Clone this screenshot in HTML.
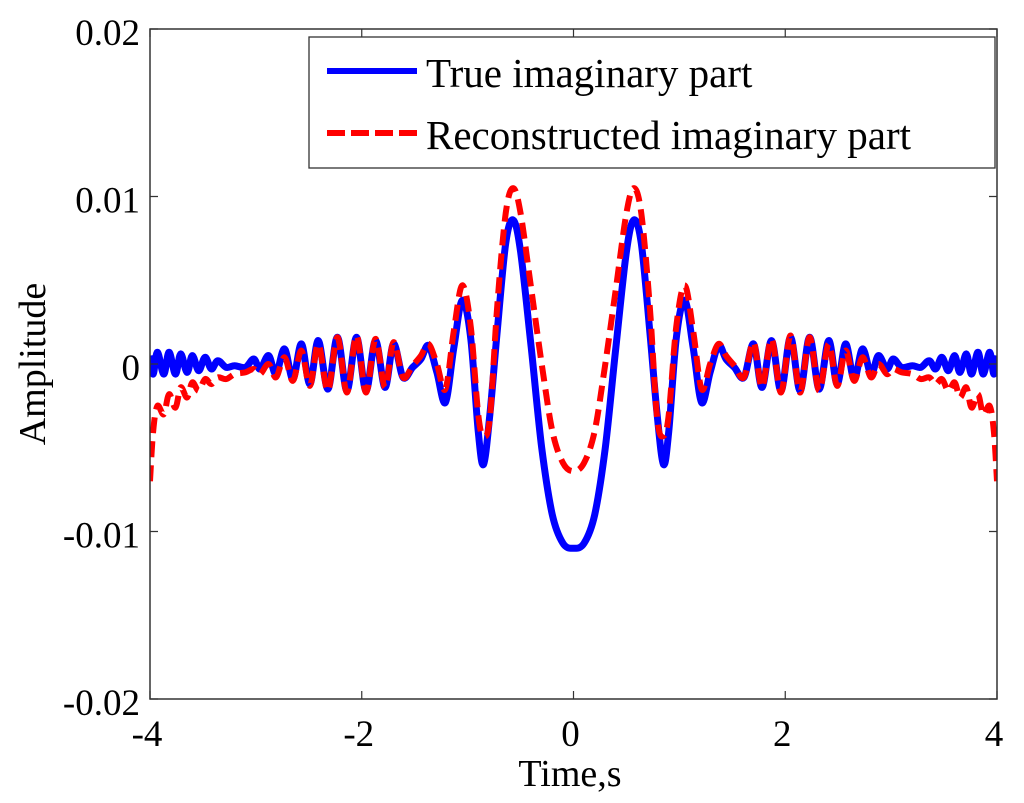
<!DOCTYPE html>
<html><head><meta charset="utf-8"><style>
body{margin:0;background:#fff;}
svg{display:block;font-family:"Liberation Serif",serif;}
</style></head><body>
<svg id="chart" width="1024" height="803">
<g id="plot"></g>
</svg>
<script>
const xTicks=[-4,-2,0,2,4];
const xTickLabels=["-4","-2","0","2","4"];
const yTicks=[0.02,0.01,0,-0.01,-0.02];
const yTickLabels=["0.02","0.01","0","-0.01","-0.02"];
const timeHalf=[-4.00,-3.97,-3.93,-3.87,-3.82,-3.76,-3.71,-3.65,-3.60,-3.54,-3.48,-3.42,-3.36,-3.28,-3.20,-3.10,-3.02,-2.96,-2.88,-2.81,-2.73,-2.65,-2.57,-2.49,-2.41,-2.32,-2.23,-2.14,-2.05,-1.96,-1.87,-1.78,-1.70,-1.61,-1.52,-1.44,-1.37,-1.29,-1.21,-1.13,-1.05,-0.97,-0.90,-0.85,-0.79,-0.72,-0.64,-0.57,-0.50,-0.40,-0.30,-0.20,-0.10,0.00];
const trueHalf=[0.0005,-0.0006,0.0007,-0.0006,0.0007,-0.0006,0.0006,-0.0005,0.0005,-0.0004,0.0004,-0.0003,0.0002,-0.0002,-0.0001,-0.0002,0.0003,-0.0003,0.0005,-0.0006,0.0009,-0.0009,0.0012,-0.0012,0.0014,-0.0015,0.0016,-0.0016,0.0016,-0.0016,0.0014,-0.0014,0.0012,-0.0008,-0.0002,0.0003,0.0011,-0.0005,-0.0023,0.0010,0.0038,0.0015,-0.0040,-0.0060,-0.0030,0.0020,0.0072,0.0086,0.0067,0.0010,-0.0050,-0.0090,-0.0107,-0.0110];
const reconHalf=[-0.0070,-0.0040,-0.0025,-0.0030,-0.0018,-0.0026,-0.0014,-0.0020,-0.0011,-0.0016,-0.0009,-0.0012,-0.0008,-0.0009,-0.0006,-0.0005,-0.0003,-0.0006,0.0000,-0.0008,0.0004,-0.0010,0.0008,-0.0013,0.0012,-0.0016,0.0016,-0.0017,0.0017,-0.0017,0.0015,-0.0014,0.0013,-0.0008,-0.0001,0.0005,0.0012,0.0000,-0.0015,0.0020,0.0047,0.0022,-0.0030,-0.0043,-0.0032,0.0035,0.0090,0.0105,0.0090,0.0045,0.0000,-0.0040,-0.0059,-0.0064];
// full series (symmetric signal)
const times=timeHalf.concat(timeHalf.slice(0,-1).reverse().map(t=>-t));
const trueVals=trueHalf.concat(trueHalf.slice(0,-1).reverse());
const reconVals=reconHalf.concat(reconHalf.slice(0,-1).reverse());

const L=150,R=997,T=29,B=699;
const xs=t=>L+(t+4)/8*(R-L);
const ys=v=>T+(0.02-v)/0.04*(B-T);
const NS='http://www.w3.org/2000/svg';
const svg=document.getElementById('chart');
const plot=document.getElementById('plot');
function mk(tag,attrs,parent){const e=document.createElementNS(NS,tag);for(const k in attrs)e.setAttribute(k,attrs[k]);(parent||svg).appendChild(e);return e;}
function pathD(xv,yv){
  const P=xv.map((t,i)=>[xs(t),ys(yv[i])]);
  let d='M'+P[0][0].toFixed(1)+','+P[0][1].toFixed(1);
  for(let i=0;i<P.length-1;i++){
    const p0=P[Math.max(0,i-1)],p1=P[i],p2=P[i+1],p3=P[Math.min(P.length-1,i+2)];
    const c1=[p1[0]+(p2[0]-p0[0])/6,p1[1]+(p2[1]-p0[1])/6];
    const c2=[p2[0]-(p3[0]-p1[0])/6,p2[1]-(p3[1]-p1[1])/6];
    d+='C'+c1[0].toFixed(1)+','+c1[1].toFixed(1)+' '+c2[0].toFixed(1)+','+c2[1].toFixed(1)+' '+p2[0].toFixed(1)+','+p2[1].toFixed(1);
  }
  return d;
}
const box=mk('rect',{x:L,y:T,width:R-L,height:B-T,fill:'none',stroke:'#333','stroke-width':1.5});


xTicks.forEach((t,i)=>{
  const x=xs(t);
  const tk=mk('path',{d:`M${x},${B}v-8M${x},${T}v8`,stroke:'#333','stroke-width':1.2});
  
  
  const lb=mk('text',{x:x-3,y:B+47,'font-size':37,'text-anchor':'middle',fill:'#000'});
  lb.textContent=xTickLabels[i];
  
  
});
yTicks.forEach((v,i)=>{
  const y=ys(v);
  const tk=mk('path',{d:`M${L},${y}h8M${R},${y}h-8`,stroke:'#333','stroke-width':1.2});
  
  
  const lb=mk('text',{x:L-10,y:y+16,'font-size':37,'text-anchor':'end',fill:'#000'});
  lb.textContent=yTickLabels[i];
  
  
});
const clip=mk('clipPath',{id:'c'});mk('rect',{x:L,y:T,width:R-L,height:B-T},clip);
const bl=mk('path',{d:pathD(times,trueVals),fill:'none',stroke:'#0000ff','stroke-width':7,'stroke-linejoin':'round','clip-path':'url(#c)'},plot);


const rd=mk('path',{d:pathD(times,reconVals),fill:'none',stroke:'#ff0000','stroke-width':6,'stroke-dasharray':'16 8','clip-path':'url(#c)'},plot);


const lg=mk('g',{});


mk('rect',{x:309,y:37,width:686,height:131,fill:'#fff',stroke:'#333','stroke-width':1.3},lg);
const l1=mk('line',{x1:327,y1:71,x2:417,y2:71,stroke:'#0000ff','stroke-width':6},lg);


const t1=mk('text',{x:426,y:87,'font-size':41,fill:'#000'},lg);t1.textContent='True imaginary part';


const l2=mk('line',{x1:327,y1:133,x2:417,y2:133,stroke:'#ff0000','stroke-width':6,'stroke-dasharray':'18 6'},lg);


const t2=mk('text',{x:426,y:149,'font-size':41,fill:'#000'},lg);t2.textContent='Reconstructed imaginary part';


const xt=mk('text',{x:570,y:786,'font-size':38,'text-anchor':'middle',fill:'#000'});xt.textContent='Time,s';


const yt=mk('text',{x:0,y:0,'font-size':38,'text-anchor':'middle',fill:'#000',transform:'translate(45,364) rotate(-90)'});yt.textContent='Amplitude';


</script>
</body></html>
